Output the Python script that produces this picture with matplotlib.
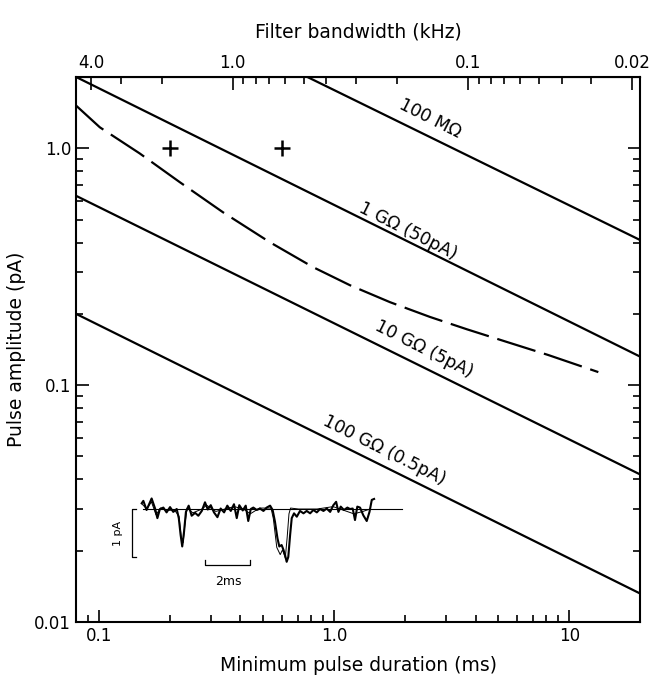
import numpy as np
import matplotlib
matplotlib.use('Agg')
import matplotlib.pyplot as plt
from matplotlib.ticker import FixedLocator, NullFormatter, LogLocator

plt.rcParams['font.family'] = ['DejaVu Sans']

# straight noise lines (end points)
line_names = ['100 MΩ', '1 GΩ (50pA)', '10 GΩ (5pA)', '100 GΩ (0.5pA)']
line_t = [[0.77, 20], [0.08, 20], [0.08, 20], [0.08, 20]]
line_a = [[2.0, 0.41], [2.0, 0.132], [0.63, 0.042], [0.20, 0.0132]]
label_t = [2.57, 2.07, 2.42, 1.64]
label_a = [1.34, 0.447, 0.142, 0.0532]

# dashed curve
dash_t = [0.078, 0.101, 0.149, 0.221, 0.337, 0.534, 0.814, 1.17, 1.73,
          2.56, 3.68, 5.45, 8.15, 13.3]
dash_a = [1.55, 1.226, 0.952, 0.719, 0.537, 0.401, 0.315, 0.264, 0.224,
          0.194, 0.172, 0.152, 0.134, 0.1135]

# crosses
plus_t = [0.2, 0.6]
plus_a = [1.0, 1.0]

# inset current trace (ms, pA)
trace_t = [1.38, 1.45, 1.59, 1.81, 1.96, 2.06, 2.17, 2.32, 2.46, 2.61, 2.75,
           2.90, 2.99, 3.07, 3.14, 3.22, 3.30, 3.42, 3.55, 3.70, 3.84, 3.99,
           4.13, 4.25, 4.38, 4.52, 4.67, 4.81, 4.96, 5.10, 5.25, 5.39, 5.51,
           5.62, 5.77, 5.90, 6.01, 6.12, 6.23, 6.38, 6.52, 6.67, 6.81, 6.96,
           7.07, 7.17, 7.28, 7.36, 7.46, 7.54, 7.61, 7.68, 7.75, 7.83, 7.90,
           8.00, 8.12, 8.26, 8.41, 8.55, 8.70, 8.84, 8.99, 9.13, 9.28, 9.42,
           9.57, 9.71, 9.83, 9.93, 10.03, 10.17, 10.32, 10.43, 10.55, 10.65,
           10.75, 10.87, 11.01, 11.16, 11.28, 11.38, 11.48]
trace_i = [0.12, 0.17, -0.02, 0.22, 0.01, -0.19, 0.0, 0.03, -0.07, 0.04, -0.06,
           0.0, -0.19, -0.54, -0.78, -0.47, -0.06, 0.07, -0.14, -0.08, -0.14, -0.04,
           0.14, -0.01, 0.08, -0.07, -0.17, 0.01, -0.07, 0.07, -0.04, 0.10, -0.19,
           0.08, -0.03, 0.07, -0.25, 0.0, 0.03, -0.02, 0.01, -0.04, 0.03, 0.07,
           -0.02, -0.26, -0.61, -0.78, -0.75, -0.85, -0.96, -1.10, -1.0, -0.54, -0.19,
           -0.09, -0.16, -0.04, -0.09, -0.04, -0.09, -0.02, -0.07, 0.0, -0.04, 0.01,
           -0.06, 0.08, 0.15, -0.06, 0.05, -0.02, 0.03, 0.0, 0.01, -0.23,
           0.05, 0.03, -0.13, -0.25, -0.06, 0.19, 0.21]
thin_t = [1.40, 1.60, 1.80, 2.00, 2.20, 2.50, 2.80, 3.00, 3.10, 3.18, 3.25,
          3.35, 3.60, 4.00, 4.20, 4.60, 5.00, 5.40, 5.80, 6.10, 6.50, 7.00,
          7.10, 7.25, 7.40, 7.50, 7.62, 7.70, 7.78, 7.85, 8.20, 9.00, 9.70,
          10.0, 10.6, 11.0, 11.3]
thin_i = [0.10, 0.0, 0.15, -0.12, 0.02, -0.03, -0.02, -0.15, -0.60, -0.70, -0.35,
          0.02, -0.08, 0.0, 0.08, -0.05, 0.0, 0.05, 0.0, -0.10, 0.02, 0.02,
          -0.20, -0.80, -0.95, -0.85, -1.02, -0.60, -0.10, 0.02, 0.0, 0.0, 0.05,
          0.0, -0.10, -0.05, 0.0]

fig = plt.figure(figsize=(6.52, 6.75), dpi=100)
ax = fig.add_axes([0.1166, 0.0785, 0.865, 0.8075])

for t, a in zip(line_t, line_a):
    ax.plot(t, a, color='black', lw=1.6, solid_capstyle='butt')
for name, t, a in zip(line_names, label_t, label_a):
    ax.text(t, a, name, rotation=-26.7, rotation_mode='anchor',
            ha='center', va='center', fontsize=12.5)

ax.plot(dash_t, dash_a, color='black', lw=1.6, dashes=(18, 4),
        dash_capstyle='butt')
ax.plot(plus_t, plus_a, ls='none', marker='+', ms=11, mew=1.8, color='black')

ax.set_xscale('log')
ax.set_yscale('log')
ax.set_xlim(0.08, 20)
ax.set_ylim(0.01, 2.0)
ax.xaxis.set_major_locator(FixedLocator([0.1, 1.0, 10]))
ax.set_xticklabels(['0.1', '1.0', '10'])
ax.yaxis.set_major_locator(FixedLocator([0.01, 0.1, 1.0]))
ax.set_yticklabels(['0.01', '0.1', '1.0'])
ax.xaxis.set_minor_locator(LogLocator(subs=np.arange(2, 10)))
ax.yaxis.set_minor_locator(LogLocator(subs=np.arange(2, 10)))
ax.xaxis.set_minor_formatter(NullFormatter())
ax.yaxis.set_minor_formatter(NullFormatter())
ax.tick_params(which='both', direction='in', right=True, top=False,
               labelsize=12, width=1.2)
ax.tick_params(which='major', length=9)
ax.tick_params(which='minor', length=5)
for s in ax.spines.values():
    s.set_linewidth(1.5)

ax.set_xlabel('Minimum pulse duration (ms)', fontsize=13.5, labelpad=8)
ax.set_ylabel('Pulse amplitude (pA)', fontsize=13.5, labelpad=6)

top = ax.secondary_xaxis('top', functions=(lambda t: 0.371 / t,
                                           lambda f: 0.371 / f))
top.xaxis.set_major_locator(FixedLocator([4.0, 1.0, 0.1, 0.02]))
top.set_xticklabels(['4.0', '1.0', '0.1', '0.02'])
top.xaxis.set_minor_locator(LogLocator(subs=np.arange(2, 10)))
top.xaxis.set_minor_formatter(NullFormatter())
top.tick_params(which='both', direction='in', labelsize=12, width=1.2)
top.tick_params(which='major', length=9)
top.tick_params(which='minor', length=5)
top.set_xlabel('Filter bandwidth (kHz)', fontsize=13.5, labelpad=12)

# inset trace
ins = fig.add_axes([0.1687, 0.1111, 0.4601, 0.1659])
ins.set_xlim(0, 13.04)
ins.set_ylim(-1.896, 0.4375)
ins.axis('off')
ins.plot([1.42, 12.7], [0, 0], color='black', lw=0.8)
ins.plot(thin_t, thin_i, color='black', lw=0.7)
ins.plot(trace_t, trace_i, color='black', lw=1.5)
ins.plot([1.14, 0.94, 0.94, 1.14], [0, 0, -1.0, -1.0], color='black', lw=0.9)
ins.text(0.35, -0.5, '1 pA', rotation=90, ha='center', va='center', fontsize=8)
ins.plot([4.13, 4.13, 6.09, 6.09], [-1.07, -1.17, -1.17, -1.07],
         color='black', lw=0.9)
ins.text(5.14, -1.52, '2ms', ha='center', va='center', fontsize=9)

fig.savefig('out.png', dpi=100)
